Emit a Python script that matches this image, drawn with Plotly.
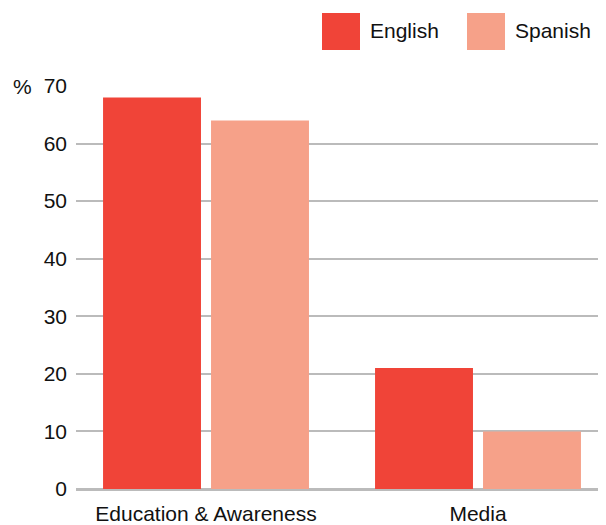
import plotly.graph_objects as go

categories = ["Education & Awareness", "Media"]
english = [68, 21]
spanish = [64, 10]
series_names = ["English", "Spanish"]
colors = ["#F04438", "#F6A189"]
y_ticks = [0, 10, 20, 30, 40, 50, 60, 70]

FONT = "Liberation Sans, Arial, sans-serif"

fig = go.Figure()
for name, vals, col in zip(series_names, [english, spanish], colors):
    fig.add_trace(go.Bar(x=categories, y=vals, name=name, marker=dict(color=col, line=dict(width=0)),
                         showlegend=False))

# figure coordinates (page has an 8px body margin)
L, R, T, B = 68, 0, 78, 44
W, H = 606, 525
pw, ph = W - L - R, H - T - B

def px_x(p):
    return (p - L) / pw

def px_y(p):
    return (H - B - p) / ph

shapes = []
annotations = []
legend_x = [314, 459]
for name, col, x0 in zip(series_names, colors, legend_x):
    shapes.append(dict(type="rect", xref="paper", yref="paper",
                       x0=px_x(x0), x1=px_x(x0 + 38), y0=px_y(42), y1=px_y(5),
                       fillcolor=col, line=dict(width=0)))
    annotations.append(dict(xref="paper", yref="paper", x=px_x(x0 + 46), y=px_y(23),
                            xanchor="left", yanchor="middle", text=name, showarrow=False,
                            font=dict(family=FONT, size=21, color="#111111")))
annotations.append(dict(xref="paper", yref="paper", x=px_x(3), y=px_y(78),
                        xanchor="left", yanchor="middle", text="%", showarrow=False,
                        font=dict(family=FONT, size=21, color="#111111")))

fig.update_layout(
    width=W, height=H,
    margin=dict(l=L, r=R, t=T, b=B, pad=0),
    paper_bgcolor="white", plot_bgcolor="white",
    barmode="group", bargap=0.206, bargroupgap=0.093,
    font=dict(family=FONT, size=21, color="#111111"),
    xaxis=dict(range=[-0.478, 1.5], showgrid=False, showline=False, ticks="",
               ticklabelstandoff=10,
               tickfont=dict(family=FONT, size=21, color="#111111"), fixedrange=True),
    yaxis=dict(range=[0, 70], tickvals=y_ticks, showgrid=True, gridcolor="#BBBBBB", gridwidth=2,
               zeroline=True, zerolinecolor="#BBBBBB", zerolinewidth=3, showline=False,
               ticks="", ticklabelstandoff=8,
               tickfont=dict(family=FONT, size=21, color="#111111")),
    shapes=shapes, annotations=annotations,
)

fig.write_html("out.html")
